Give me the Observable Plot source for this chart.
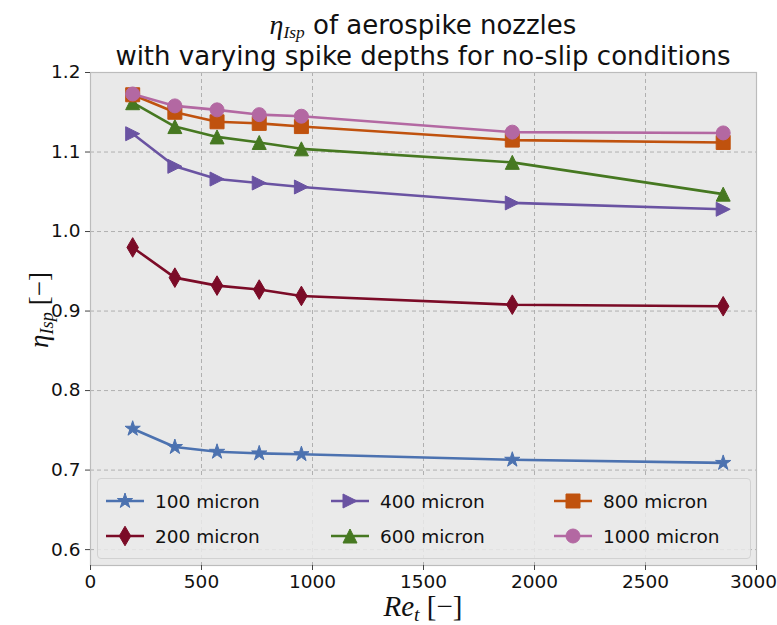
<!DOCTYPE html>
<html>
<head>
<meta charset="utf-8">
<script src="https://cdn.jsdelivr.net/npm/d3@7"></script>
<script src="https://cdn.jsdelivr.net/npm/@observablehq/plot@0.6"></script>
<style>
  html, body { margin: 0; padding: 0; background: #ffffff; overflow: hidden; }
  #wrap { position: relative; width: 777px; height: 625px; font-family: "DejaVu Sans", sans-serif; }
  .abs { position: absolute; white-space: nowrap; color: #111; }
  .math { font-family: "Liberation Serif", "DejaVu Serif", serif; }
  .math i { font-style: italic; }
  .math sub { font-size: 0.68em; vertical-align: -0.3em; line-height: 0; font-style: italic; }
  #title .math sub { font-size: 0.62em; vertical-align: -0.22em; }
  #legend { position: absolute; box-sizing: border-box; background: rgba(234,234,234,0.85); border: 1px solid #d2d2d2; border-radius: 4px; }
  .entry { position: absolute; display: flex; align-items: center; font-size: 18.5px; color: #111; white-space: nowrap; }
  .entry svg { margin-right: 11px; overflow: visible; }
</style>
</head>
<body>
<div id="wrap">
  <div id="chart"></div>
  <div class="abs" id="title" style="left:423px; top:9px; transform:translateX(-50%); text-align:center; font-size:26px; line-height:31px;">
    <div><span class="math" style="font-size:28px;"><i>η</i><sub>Isp</sub></span> of aerospike nozzles</div>
    <div>with varying spike depths for no-slip conditions</div>
  </div>
  <div class="abs math" id="ylabel" style="left:39px; top:310px; transform:translate(-50%,-50%) rotate(-90deg); font-size:27px;"><i>η</i><sub>Isp</sub> [−]</div>
  <div class="abs math" id="xlabel" style="left:423px; top:606px; transform:translate(-50%,-50%); font-size:29px;"><i>Re</i><sub>t</sub> [−]</div>
  <div id="legend"></div>
</div>
<script>
// ---- data ----
const reynolds = [190, 380, 570, 760, 950, 1900, 2850];
const seriesNames = ["100 micron", "200 micron", "400 micron", "600 micron", "800 micron", "1000 micron"];
const eta100  = [0.752, 0.729, 0.723, 0.721, 0.720, 0.713, 0.709];
const eta200  = [0.980, 0.942, 0.932, 0.927, 0.919, 0.908, 0.906];
const eta400  = [1.123, 1.082, 1.066, 1.061, 1.056, 1.036, 1.028];
const eta600  = [1.162, 1.132, 1.119, 1.112, 1.104, 1.087, 1.047];
const eta800  = [1.172, 1.150, 1.138, 1.136, 1.132, 1.115, 1.112];
const eta1000 = [1.173, 1.158, 1.153, 1.147, 1.145, 1.125, 1.124];
const xTicks = [0, 500, 1000, 1500, 2000, 2500, 3000];
const yTicks = [0.6, 0.7, 0.8, 0.9, 1.0, 1.1, 1.2];
const seriesColors = ["#4c72b0", "#7b0b27", "#6a53a2", "#467821", "#c0520e", "#b368a2"];

const allValues = [eta100, eta200, eta400, eta600, eta800, eta1000];

// ---- marker shapes (matplotlib-like) ----
function poly(pts) {
  return {
    draw(ctx, size) {
      const r = Math.sqrt(size / Math.PI);
      ctx.moveTo(pts[0][0] * r, pts[0][1] * r);
      for (let i = 1; i < pts.length; i++) ctx.lineTo(pts[i][0] * r, pts[i][1] * r);
      ctx.closePath();
    }
  };
}
const starPts = [];
for (let i = 0; i < 10; i++) {
  const a = -Math.PI / 2 + i * Math.PI / 5;
  const rr = i % 2 === 0 ? 1 : 0.382;
  starPts.push([Math.cos(a) * rr, Math.sin(a) * rr]);
}
const symStar = poly(starPts);
const symThinDiamond = poly([[0, -1.4], [0.82, 0], [0, 1.4], [-0.82, 0]]);
const symTriRight = poly([[1, 0], [-1, -1], [-1, 1]]);
const symTriUp = poly([[0, -1], [1, 1], [-1, 1]]);
const symSquare = poly([[-1, -1], [1, -1], [1, 1], [-1, 1]]);
const symCircle = { draw(ctx, size) { const r = Math.sqrt(size / Math.PI); ctx.moveTo(r, 0); ctx.arc(0, 0, r, 0, 2 * Math.PI); } };
const seriesSymbols = [symStar, symThinDiamond, symTriRight, symTriUp, symSquare, symCircle];
const markerR = [8, 7, 7, 7, 7, 7];

const rows = seriesNames.flatMap((s, i) => reynolds.map((x, j) => ({ series: s, re: x, eta: allValues[i][j] })));

const marks = [
  Plot.frame({ fill: "#e9e9e9", stroke: null }),
  Plot.gridX(xTicks.slice(1, -1), { stroke: "#b0b0b0", strokeOpacity: 1, strokeDasharray: "4,3", strokeWidth: 1 }),
  Plot.gridY(yTicks.slice(0, -1), { stroke: "#b0b0b0", strokeOpacity: 1, strokeDasharray: "4,3", strokeWidth: 1 }),
  Plot.frame({ stroke: "#bcbcbc", strokeWidth: 1.2 }),
  Plot.axisX({ ticks: xTicks.slice(0, -1), tickSize: 5, tickPadding: 4, fontSize: 18.5, label: null, tickFormat: d => String(d), stroke: "#444" }),
  Plot.axisX({ ticks: xTicks.slice(-1), tickSize: 5, label: null, text: null, stroke: "#444" }),
  Plot.axisX({ ticks: xTicks.slice(-1), tickSize: 0, tickPadding: 9, fontSize: 18.5, label: null, tickFormat: d => String(d), dx: -3 }),
  Plot.axisY({ ticks: yTicks, tickSize: 5, tickPadding: 5, fontSize: 18.5, label: null, tickFormat: d3.format(".1f"), stroke: "#444" })
];
seriesNames.forEach((s, i) => {
  const d = rows.filter(r => r.series === s);
  marks.push(Plot.line(d, { x: "re", y: "eta", stroke: seriesColors[i], strokeWidth: 2.6 }));
  marks.push(Plot.dot(d, { x: "re", y: "eta", symbol: seriesSymbols[i], r: markerR[i], fill: seriesColors[i], stroke: seriesColors[i], strokeWidth: 1 }));
});

const chart = Plot.plot({
  width: 777,
  height: 625,
  marginLeft: 90,
  marginRight: 21,
  marginTop: 72,
  marginBottom: 60,
  x: { domain: [0, 3000] },
  y: { domain: [0.58, 1.2] },
  style: { fontFamily: "DejaVu Sans, sans-serif", fontSize: "18.5px", background: "transparent", color: "#111", overflow: "visible" },
  marks
});
document.getElementById("chart").appendChild(chart);

// ---- legend (3 columns, column-major) ----
const legend = document.getElementById("legend");
legend.style.left = "97px";
legend.style.top = "478px";
legend.style.width = "654px";
legend.style.height = "81px";
const colX = [8, 233, 456];
const rowY = [22, 57];
seriesNames.forEach((s, i) => {
  const col = Math.floor(i / 2), row = i % 2;
  const e = document.createElement("div");
  e.className = "entry";
  e.style.left = colX[col] + "px";
  e.style.top = (rowY[row] - 12) + "px";
  e.style.height = "24px";
  const p = d3.path();
  seriesSymbols[i].draw(p, markerR[i] * markerR[i] * Math.PI);
  e.innerHTML = `<svg width="38" height="24" viewBox="0 0 38 24">
      <line x1="0" y1="12" x2="38" y2="12" stroke="${seriesColors[i]}" stroke-width="2.6"/>
      <path transform="translate(19,12)" d="${p.toString()}" fill="${seriesColors[i]}" stroke="${seriesColors[i]}" stroke-width="1"/>
    </svg><span>${s}</span>`;
  legend.appendChild(e);
});
</script>
</body>
</html>
